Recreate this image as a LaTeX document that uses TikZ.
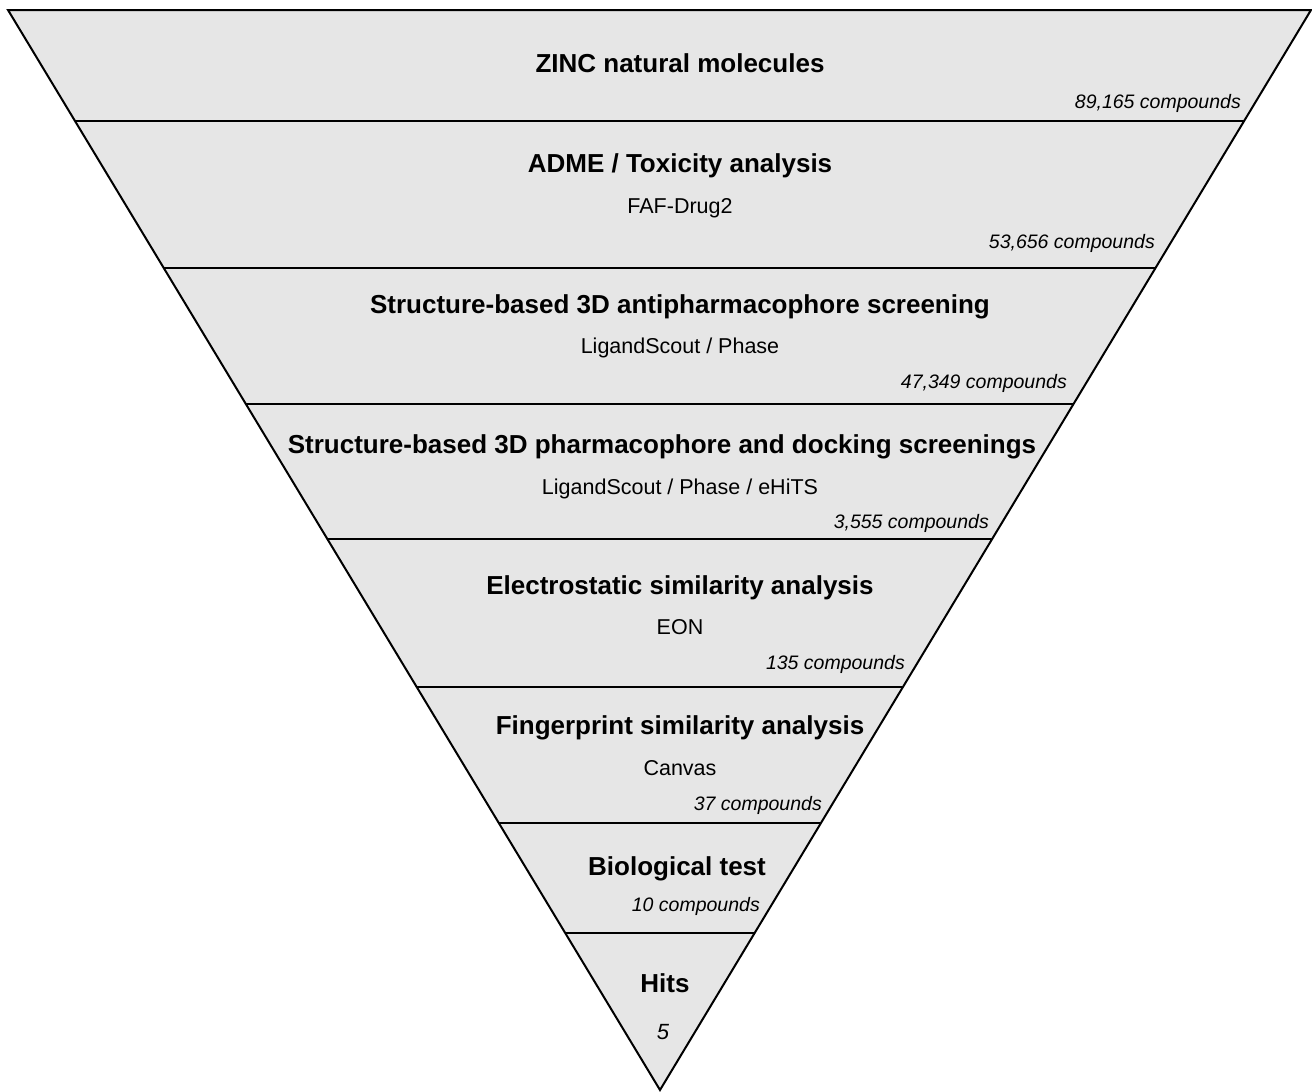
\documentclass[tikz,border=0pt]{standalone}
\usepackage{fontspec}
\setmainfont{Liberation Sans}
\usetikzlibrary{calc}
\definecolor{funnelgray}{RGB}{230,230,230}
\tikzset{
  stage/.style={font=\bfseries\fontsize{26}{30}\selectfont,anchor=base,inner sep=0pt},
  tool/.style={font=\fontsize{21.5}{26}\selectfont,anchor=base,inner sep=0pt},
  count/.style={font=\itshape\fontsize{19.5}{24}\selectfont,anchor=base east,inner sep=0pt},
  level/.style={line width=2pt}
}
\begin{document}
\begin{tikzpicture}[x=1pt,y=-1pt]
  \useasboundingbox (0,0) rectangle (1312,1092);
  \coordinate (tl) at (8,10);
  \coordinate (tr) at (1311,10);
  \coordinate (ap) at (660,1090);
  \filldraw[fill=funnelgray,line width=2pt](tl)--(tr)--(ap)--cycle;

  % separators
  \coordinate (l1) at ($(tl)!0.1028!(ap)$); \coordinate (r1) at ($(tr)!0.1028!(ap)$);
  \coordinate (l2) at ($(tl)!0.2389!(ap)$); \coordinate (r2) at ($(tr)!0.2389!(ap)$);
  \coordinate (l3) at ($(tl)!0.3648!(ap)$); \coordinate (r3) at ($(tr)!0.3648!(ap)$);
  \coordinate (l4) at ($(tl)!0.4898!(ap)$); \coordinate (r4) at ($(tr)!0.4898!(ap)$);
  \coordinate (l5) at ($(tl)!0.6269!(ap)$); \coordinate (r5) at ($(tr)!0.6269!(ap)$);
  \coordinate (l6) at ($(tl)!0.7528!(ap)$); \coordinate (r6) at ($(tr)!0.7528!(ap)$);
  \coordinate (l7) at ($(tl)!0.8546!(ap)$); \coordinate (r7) at ($(tr)!0.8546!(ap)$);
  \draw[level](l1)--(r1);
  \draw[level](l2)--(r2);
  \draw[level](l3)--(r3);
  \draw[level](l4)--(r4);
  \draw[level](l5)--(r5);
  \draw[level](l6)--(r6);
  \draw[level](l7)--(r7);

  \node[stage] (zinc) at (680,72) {ZINC natural molecules};
  \node[count] (n1) at (1241,108) {89,165 compounds};

  \node[stage] (adme) at (680,172) {ADME / Toxicity analysis};
  \node[tool] (faf) at (680,213) {FAF-Drug2};
  \node[count] (n2) at (1155,248) {53,656 compounds};

  \node[stage] (anti) at (680,313) {Structure-based 3D antipharmacophore screening};
  \node[tool] (ls1) at (680,353) {LigandScout / Phase};
  \node[count] (n3) at (1067,388) {47,349 compounds};

  \node[stage] (dock) at (662,453) {Structure-based 3D pharmacophore and docking screenings};
  \node[tool] (ls2) at (680,494) {LigandScout / Phase / eHiTS};
  \node[count] (n4) at (989,528) {3,555 compounds};

  \node[stage] (eon) at (680,594) {Electrostatic similarity analysis};
  \node[tool] (eontool) at (680,634) {EON};
  \node[count] (n5) at (905,669) {135 compounds};

  \node[stage] (fp) at (680,734) {Fingerprint similarity analysis};
  \node[tool] (canvas) at (680,775) {Canvas};
  \node[count] (n6) at (822,810) {37 compounds};

  \node[stage] (bio) at (677,875) {Biological test};
  \node[count] (n7) at (760,911) {10 compounds};

  \node[stage] (hits) at (665,992) {Hits};
  \node[font=\itshape\fontsize{22}{26}\selectfont,anchor=base,inner sep=0pt] (five) at (663,1039) {5};
\end{tikzpicture}
\end{document}
